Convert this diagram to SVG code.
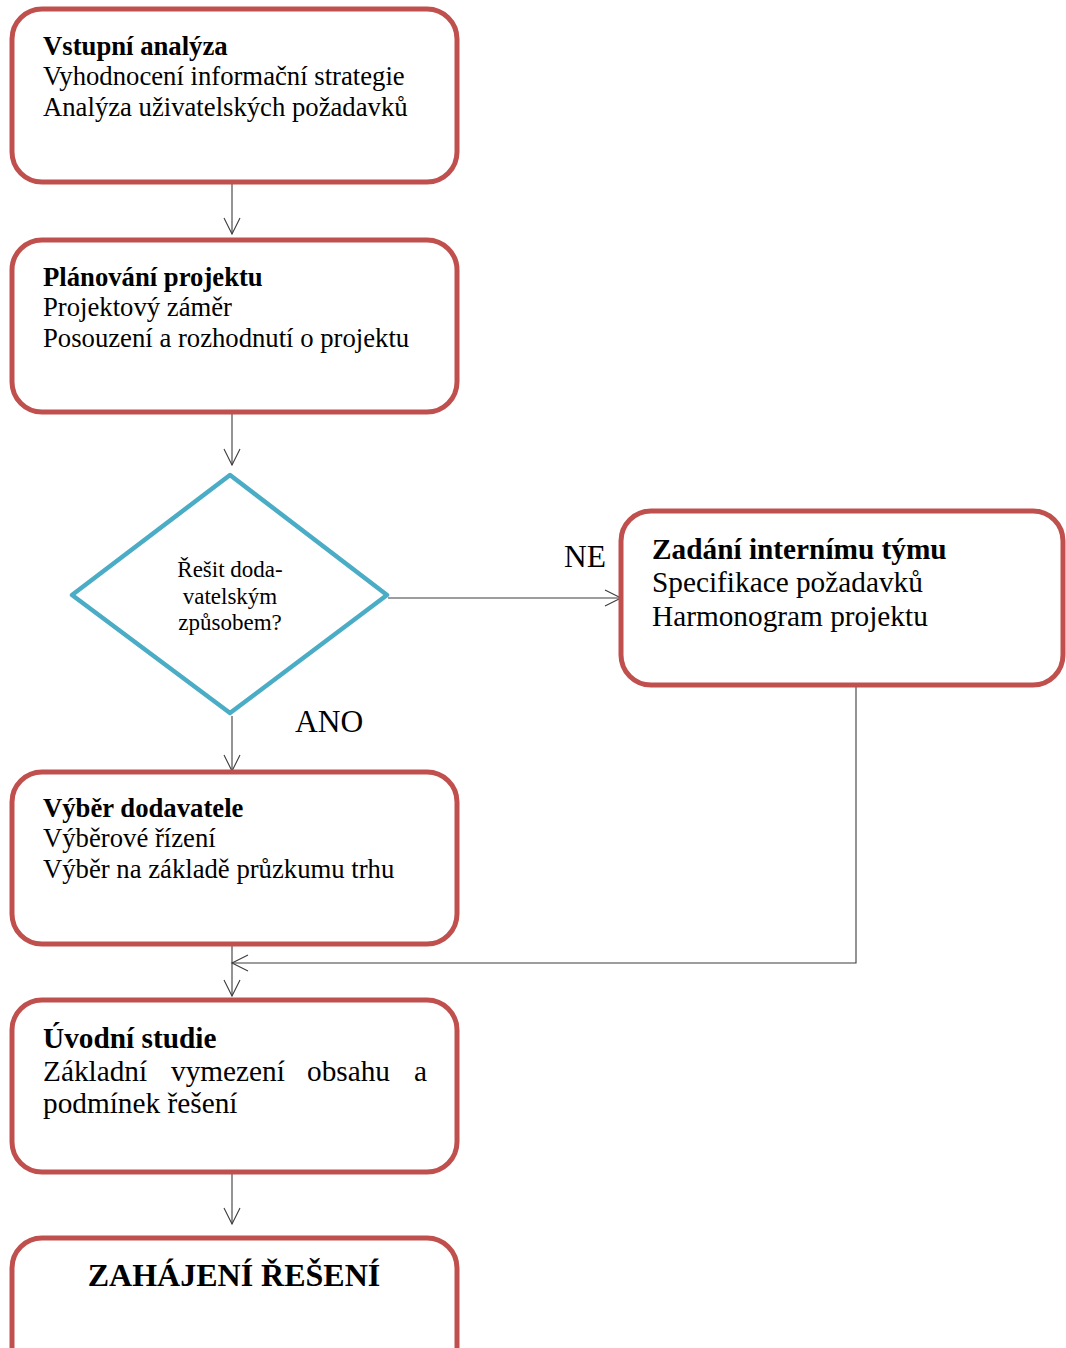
<svg xmlns="http://www.w3.org/2000/svg" width="1066" height="1348" viewBox="0 0 1066 1348">
  <style>
    .box { fill: #ffffff; stroke: #C0504D; stroke-width: 5; }
    .dec { fill: #ffffff; stroke: #4BACC6; stroke-width: 4.5; stroke-linejoin: round; }
    .t { font-family: "Liberation Serif", "Times New Roman", serif; fill: #000000; }
    .h { font-weight: bold; }
    .s { font-size: 26.7px; }
    .m { font-size: 29.3px; }
    .link { fill: none; stroke: #3c3c3c; stroke-width: 1.1; }
  </style>
  <defs>
    <marker id="arr" viewBox="0 0 20 20" refX="18" refY="10" markerWidth="20" markerHeight="20" markerUnits="userSpaceOnUse" orient="auto">
      <path d="M2,2 L18,10 L2,18" fill="none" stroke="#3c3c3c" stroke-width="1.1"/>
    </marker>
  </defs>
  <rect width="1066" height="1348" fill="#ffffff"/>

  <g id="connectors">
    <line class="link" x1="232" y1="183" x2="232" y2="234" marker-end="url(#arr)"/>
    <line class="link" x1="232" y1="413" x2="232" y2="465" marker-end="url(#arr)"/>
    <line class="link" x1="388" y1="598" x2="621" y2="598" marker-end="url(#arr)"/>
    <line class="link" x1="232" y1="716" x2="232" y2="771" marker-end="url(#arr)"/>
    <line class="link" x1="232" y1="946" x2="232" y2="996" marker-end="url(#arr)"/>
    <polyline class="link" points="856,686 856,963 232,963" marker-end="url(#arr)"/>
    <line class="link" x1="232" y1="1174" x2="232" y2="1224" marker-end="url(#arr)"/>
  </g>

  <g id="vstupni-analyza">
    <rect class="box" x="12" y="9" width="445" height="173" rx="30"/>
    <text class="t h s" x="43" y="55">Vstupní analýza</text>
    <text class="t s" x="43" y="85">Vyhodnocení informační strategie</text>
    <text class="t s" x="43" y="116">Analýza uživatelských požadavků</text>
  </g>

  <g id="planovani-projektu">
    <rect class="box" x="12" y="240" width="445" height="172" rx="30"/>
    <text class="t h s" x="43" y="286">Plánování projektu</text>
    <text class="t s" x="43" y="316">Projektový záměr</text>
    <text class="t s" x="43" y="347">Posouzení a rozhodnutí o projektu</text>
  </g>

  <g id="rozhodnuti">
    <polygon class="dec" points="230,475 387,595 230,713 72,595"/>
    <text class="t" x="230" y="577" font-size="23" text-anchor="middle">Řešit doda-</text>
    <text class="t" x="230" y="604" font-size="23" text-anchor="middle">vatelským</text>
    <text class="t" x="230" y="630" font-size="23" text-anchor="middle">způsobem?</text>
  </g>

  <g id="label-ne">
    <text class="t" x="564" y="567" font-size="31.5">NE</text>
  </g>
  <g id="label-ano">
    <text class="t" x="295" y="732" font-size="31.5">ANO</text>
  </g>

  <g id="zadani-internimu-tymu">
    <rect class="box" x="621" y="511" width="442" height="174" rx="30"/>
    <text class="t h m" x="652" y="559">Zadání internímu týmu</text>
    <text class="t m" x="652" y="592">Specifikace požadavků</text>
    <text class="t m" x="652" y="626">Harmonogram projektu</text>
  </g>

  <g id="vyber-dodavatele">
    <rect class="box" x="12" y="772" width="445" height="172" rx="30"/>
    <text class="t h s" x="43" y="817">Výběr dodavatele</text>
    <text class="t s" x="43" y="847">Výběrové řízení</text>
    <text class="t s" x="43" y="878">Výběr na základě průzkumu trhu</text>
  </g>

  <g id="uvodni-studie">
    <rect class="box" x="12" y="1000" width="445" height="172" rx="30"/>
    <text class="t h m" x="43" y="1048">Úvodní studie</text>
    <text class="t m" y="1081"><tspan x="43">Základní</tspan><tspan x="171">vymezení</tspan><tspan x="307">obsahu</tspan><tspan x="414">a</tspan></text>
    <text class="t m" x="43" y="1113">podmínek řešení</text>
  </g>

  <g id="zahajeni-reseni">
    <rect class="box" x="12" y="1238" width="445" height="150" rx="30"/>
    <text class="t h" x="234" y="1286" font-size="32" text-anchor="middle">ZAHÁJENÍ ŘEŠENÍ</text>
  </g>
</svg>
